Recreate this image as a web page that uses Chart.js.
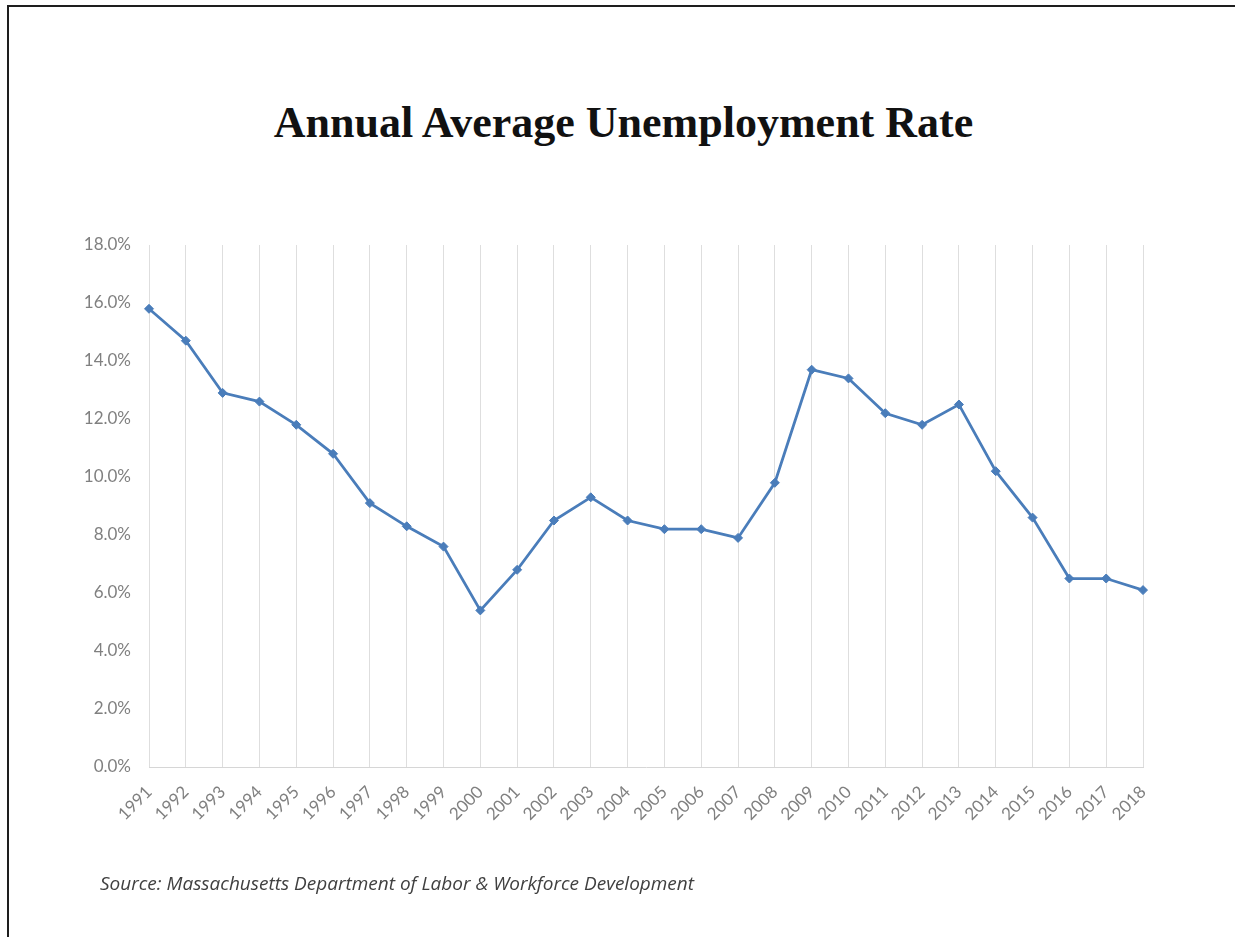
<!DOCTYPE html>
<html>
<head>
<meta charset="utf-8">
<script src="https://cdn.jsdelivr.net/npm/chart.js@4/dist/chart.umd.min.js"></script>
<style>
  html, body { margin: 0; padding: 0; background: #ffffff; }
  body { width: 1235px; height: 937px; position: relative; overflow: hidden; }
  #frame {
    position: absolute; left: 7px; top: 5px;
    width: 1300px; height: 1000px;
    border: 2px solid #1e1e1e; box-sizing: border-box;
  }
  #title {
    position: absolute; left: 0; width: 1247px; top: 98px;
    text-align: center;
    font-family: "Liberation Serif", "Times New Roman", serif;
    font-weight: bold; font-size: 44px; color: #111111;
    line-height: 50px; white-space: nowrap;
  }
  #source {
    position: absolute; left: 100px; top: 870px;
    font-family: "Open Sans", Lato, sans-serif;
    font-style: italic; font-size: 19px; color: #404040;
    white-space: nowrap;
  }
  #chart { position: absolute; left: 0; top: 0; }
</style>
</head>
<body>
<div id="frame"></div>
<div id="title">Annual Average Unemployment Rate</div>
<canvas id="chart" width="1235" height="937"></canvas>
<div id="source">Source: Massachusetts Department of Labor &amp; Workforce Development</div>
<script>
// Years on the category axis
const years = [
  '1991', '1992', '1993', '1994', '1995', '1996', '1997', '1998', '1999', '2000',
  '2001', '2002', '2003', '2004', '2005', '2006', '2007', '2008', '2009', '2010',
  '2011', '2012', '2013', '2014', '2015', '2016', '2017', '2018'
];

// Annual average unemployment rate, percent
const unemploymentRate = [
  15.8, 14.7, 12.9, 12.6, 11.8, 10.8, 9.1, 8.3, 7.6, 5.4,
  6.8, 8.5, 9.3, 8.5, 8.2, 8.2, 7.9, 9.8, 13.7, 13.4,
  12.2, 11.8, 12.5, 10.2, 8.6, 6.5, 6.5, 6.1
];

// Value axis range and step, percent
const yMin = 0;
const yMax = 18;
const yStep = 2;

const lineBlue = '#4a7dba';
const tickGrey = '#808080';
const tickFont = { family: 'Lato, "Open Sans", sans-serif', size: 17 };

new Chart(document.getElementById('chart'), {
  type: 'line',
  data: {
    labels: years,
    datasets: [{
      label: 'Unemployment rate',
      data: unemploymentRate,
      borderColor: lineBlue,
      backgroundColor: lineBlue,
      borderWidth: 2.75,
      pointStyle: 'rectRot',
      pointRadius: 4.5,
      pointBorderWidth: 1,
      pointBackgroundColor: lineBlue,
      pointBorderColor: lineBlue,
      tension: 0,
      fill: false
    }]
  },
  options: {
    responsive: false,
    animation: false,
    devicePixelRatio: 1,
    layout: { padding: { top: 245, right: 92, bottom: 0, left: 0 } },
    plugins: {
      legend: { display: false },
      title: { display: false },
      tooltip: { enabled: false }
    },
    scales: {
      x: {
        type: 'category',
        offset: false,
        grid: { display: true, drawTicks: false, color: '#dedede', lineWidth: 1 },
        border: { display: true, color: '#d6d6d6', width: 1 },
        ticks: {
          autoSkip: false,
          minRotation: 45,
          maxRotation: 45,
          padding: 15,
          color: tickGrey,
          font: tickFont
        },
        afterFit: (scale) => { scale.height = 170; }
      },
      y: {
        min: yMin,
        max: yMax,
        grid: { display: false, drawTicks: false },
        border: { display: false },
        ticks: {
          stepSize: yStep,
          padding: 18,
          color: tickGrey,
          font: tickFont,
          callback: (v) => Number(v).toFixed(1) + '%'
        },
        afterFit: (scale) => { scale.width = 149; }
      }
    }
  }
});
</script>
</body>
</html>
